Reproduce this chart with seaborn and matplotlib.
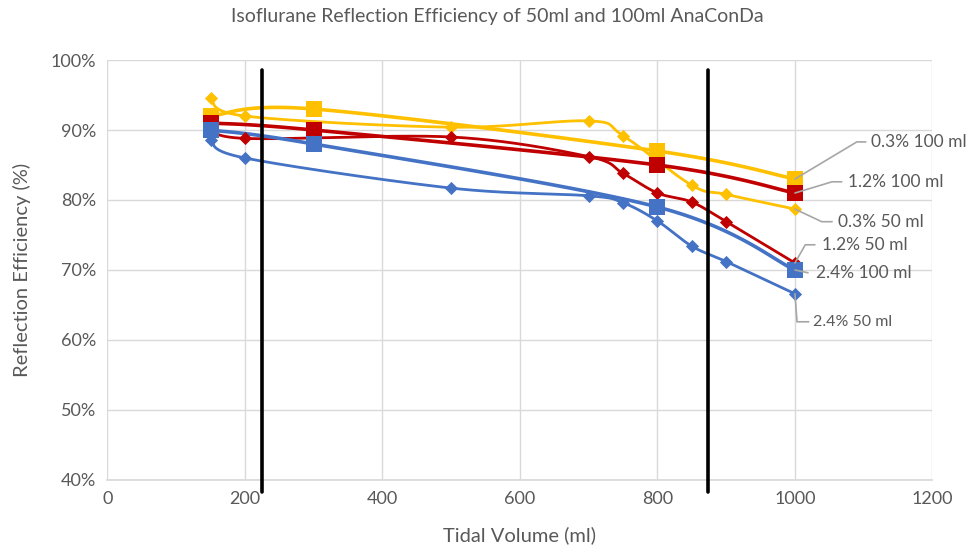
import numpy as np
import pandas as pd
import seaborn as sns
import matplotlib.pyplot as plt
from matplotlib.ticker import PercentFormatter, MultipleLocator

# 50 ml AnaConDa (diamonds)
vol_50 = [150, 200, 500, 700, 750, 800, 850, 900, 1000]
iso03_50_x = [150, 200, 500, 700, 750, 850, 900, 1000]
iso03_50 = [0.946, 0.920, 0.904, 0.913, 0.892, 0.821, 0.808, 0.787]
iso12_50 = [0.905, 0.888, 0.890, 0.862, 0.838, 0.810, 0.797, 0.769, 0.710]
iso24_50 = [0.886, 0.860, 0.817, 0.806, 0.796, 0.770, 0.734, 0.712, 0.666]

# 100 ml AnaConDa (squares)
vol_100 = [150, 300, 800, 1000]
iso03_100 = [0.92, 0.93, 0.87, 0.83]
iso12_100 = [0.91, 0.90, 0.85, 0.81]
iso24_100 = [0.90, 0.88, 0.79, 0.70]

# black reference lines
ref_lines = [225, 873]

YELLOW, RED, BLUE = "#FFC000", "#C00000", "#4472C4"
GREY = "#595959"

series = [
    ("0.3% 50 ml", iso03_50_x, iso03_50, YELLOW, "D"),
    ("1.2% 50 ml", vol_50, iso12_50, RED, "D"),
    ("2.4% 50 ml", vol_50, iso24_50, BLUE, "D"),
    ("0.3% 100 ml", vol_100, iso03_100, YELLOW, "s"),
    ("1.2% 100 ml", vol_100, iso12_100, RED, "s"),
    ("2.4% 100 ml", vol_100, iso24_100, BLUE, "s"),
]


def smooth(x, y, sx=827 / 1200, sy=420 / 0.6, n=40):
    """ Excel-like smoothed line (Catmull-Rom bezier in screen space) """
    p = np.column_stack([np.asarray(x, float) * sx, np.asarray(y, float) * sy])
    pts = []
    for i in range(len(p) - 1):
        p0 = p[i - 1] if i > 0 else p[i]
        p3 = p[i + 2] if i + 2 < len(p) else p[i + 1]
        c1 = p[i] + (p[i + 1] - p0) / 6
        c2 = p[i + 1] - (p3 - p[i]) / 6
        t = np.linspace(0, 1, n)[:, None]
        seg = ((1 - t) ** 3 * p[i] + 3 * (1 - t) ** 2 * t * c1
               + 3 * (1 - t) * t ** 2 * c2 + t ** 3 * p[i + 1])
        pts.append(seg)
    pts = np.vstack(pts)
    return pts[:, 0] / sx, pts[:, 1] / sy


sns.set_theme(style="white")
plt.rcParams["font.family"] = ["Lato", "DejaVu Sans"]

fig = plt.figure(figsize=(9.7, 5.46), dpi=100)
ax = fig.add_axes([0.1108, 0.1209, 0.8505, 0.7692])

for name, x, y, color, marker in series:
    big = marker == "s"
    cx, cy = smooth(x, y)
    ax.plot(cx, cy, color=color, lw=2.6 if big else 2.0, zorder=3, solid_capstyle="round")
    df = pd.DataFrame({"vol": x, "eff": y})
    sns.scatterplot(data=df, x="vol", y="eff", ax=ax, color=color, marker=marker,
                    s=120 if big else 45, edgecolor=color, linewidth=0, zorder=4)

for xv in ref_lines:
    ax.plot([xv, xv], [0.986, 0.383], color="black", lw=2.6, zorder=5, clip_on=False)

# data labels: (text, point x, point y, elbow x, elbow y, line end x, text x, font size)
labels = [
    ("0.3% 100 ml", 1000, 0.83, 1090, 0.883, 1103, 1110, 12.5),
    ("1.2% 100 ml", 1000, 0.81, 1054, 0.826, 1068, 1077, 12.5),
    ("0.3% 50 ml", 1000, 0.787, 1039, 0.769, 1054, 1063, 12.5),
    ("1.2% 50 ml", 1000, 0.710, 1015, 0.736, 1029, 1039, 12.5),
    ("2.4% 100 ml", 1000, 0.700, 1019, 0.696, 1019, 1031, 12.5),
    ("2.4% 50 ml", 1000, 0.666, 1003, 0.626, 1020, 1026, 11.5),
]
for text, px, py, ex, ey, lx, tx, fs in labels:
    ax.plot([px, ex, lx], [py, ey, ey], color="#A6A6A6", lw=1.2, zorder=6, clip_on=False)
    ax.text(tx, ey, text, fontsize=fs, color=GREY, va="center", ha="left", zorder=6)

ax.set_xlim(0, 1200)
ax.set_ylim(0.4, 1.0)
ax.xaxis.set_major_locator(MultipleLocator(200))
ax.yaxis.set_major_locator(MultipleLocator(0.1))
ax.yaxis.set_major_formatter(PercentFormatter(1.0, decimals=0))
ax.grid(True, color="#D9D9D9", lw=1)
ax.set_axisbelow(True)
for side in ["top", "right", "left"]:
    ax.spines[side].set_visible(False)
ax.spines["bottom"].set_color("#D9D9D9")
ax.tick_params(axis="both", labelsize=13, colors=GREY, length=0, pad=8)

ax.set_xlabel("Tidal Volume (ml)", fontsize=14.5, color=GREY, labelpad=14)
ax.set_ylabel("Reflection Efficiency (%)", fontsize=14.5, color=GREY, labelpad=14)
fig.suptitle("Isoflurane Reflection Efficiency of 50ml and 100ml AnaConDa",
             fontsize=14, color=GREY, x=0.513, y=0.985)

fig.savefig("out.png", dpi=100)
